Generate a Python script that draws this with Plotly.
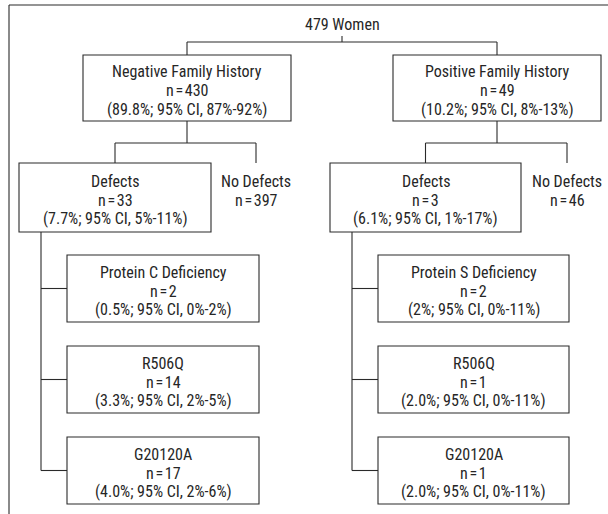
import plotly.graph_objects as go

# ---- data ----
total_label = "479 Women"
group_labels = ["Negative Family History", "Positive Family History"]
group_n = [430, 49]
group_ci = ["(89.8%; 95% CI, 87%-92%)", "(10.2%; 95% CI, 8%-13%)"]
defect_n = [33, 3]
defect_ci = ["(7.7%; 95% CI, 5%-11%)", "(6.1%; 95% CI, 1%-17%)"]
nodefect_n = [397, 46]
sub_labels = [["Protein C Deficiency", "R506Q", "G20120A"],
              ["Protein S Deficiency", "R506Q", "G20120A"]]
sub_n = [[2, 14, 17], [2, 1, 1]]
sub_ci = [["(0.5%; 95% CI, 0%-2%)", "(3.3%; 95% CI, 2%-5%)", "(4.0%; 95% CI, 2%-6%)"],
          ["(2%; 95% CI, 0%-11%)", "(2.0%; 95% CI, 0%-11%)", "(2.0%; 95% CI, 0%-11%)"]]

# ---- layout geometry (pixel-like coordinates) ----
W, H = 608, 514
FONT = "Roboto Condensed, DejaVu Sans Condensed, sans-serif"
FS = 16
LC = "#2a2a2a"
TC = "#262626"
root_xy = (342, 24)
branch_y0 = 42
group_box = [(83, 291), (393, 601)]
group_y = (55, 121)
split_y = 143
defect_box = [(19, 211), (330, 521)]
defect_y = (163, 232)
nodef_x = [256, 567]
sub_x = [(67, 259), (378, 569)]
sub_y = [(255, 322), (346, 413), (437, 504)]
tree_x = [41, 352]
OFF = [-16.5, 2.5, 21.0]

def neq(v):
    return "n\u200a=\u200a" + str(v)

shapes = []
annots = []

def line(x0, y0, x1, y1):
    shapes.append(dict(type="line", x0=x0, y0=y0, x1=x1, y1=y1, xref="x", yref="y",
                       line=dict(color=LC, width=1.1)))

def rect(x0, y0, x1, y1):
    shapes.append(dict(type="rect", x0=x0, y0=y0, x1=x1, y1=y1, xref="x", yref="y",
                       line=dict(color=LC, width=1.1), fillcolor="white", layer="below"))

def text(x, y, s):
    annots.append(dict(x=x, y=y, xref="x", yref="y", text=s, showarrow=False,
                       font=dict(family=FONT, size=FS, color=TC),
                       xanchor="center", yanchor="middle", align="center"))

def block(x, ymid, lines):
    for k, s in enumerate(lines):
        text(x, ymid + OFF[k], s)

# outer frame
line(9, 5, W + 2, 5)
line(9, 5, 9, H + 2)

# root
text(root_xy[0], root_xy[1], total_label)
gcx = [(a + b) / 2 for a, b in group_box]
line(root_xy[0], 36, root_xy[0], branch_y0)
line(gcx[0], branch_y0, gcx[1], branch_y0)
for i in range(2):
    line(gcx[i], branch_y0, gcx[i], group_y[0])
    rect(group_box[i][0], group_y[0], group_box[i][1], group_y[1])
    block(gcx[i], (group_y[0] + group_y[1]) / 2,
          [group_labels[i], neq(group_n[i]), group_ci[i]])
    dcx = (defect_box[i][0] + defect_box[i][1]) / 2
    line(gcx[i], group_y[1], gcx[i], split_y)
    line(dcx, split_y, nodef_x[i], split_y)
    line(dcx, split_y, dcx, defect_y[0])
    line(nodef_x[i], split_y, nodef_x[i], defect_y[0])
    rect(defect_box[i][0], defect_y[0], defect_box[i][1], defect_y[1])
    dmid = (defect_y[0] + defect_y[1]) / 2
    block(dcx, dmid, ["Defects", neq(defect_n[i]), defect_ci[i]])
    block(nodef_x[i], dmid, ["No Defects", neq(nodefect_n[i])])
    tx = tree_x[i]
    mids = [(a + b) / 2 for a, b in sub_y]
    line(tx, defect_y[1], tx, mids[-1])
    for j in range(3):
        line(tx, mids[j], sub_x[i][0], mids[j])
        rect(sub_x[i][0], sub_y[j][0], sub_x[i][1], sub_y[j][1])
        block((sub_x[i][0] + sub_x[i][1]) / 2, mids[j],
              [sub_labels[i][j], neq(sub_n[i][j]), sub_ci[i][j]])

fig = go.Figure()
fig.update_layout(
    width=W, height=H, margin=dict(l=0, r=0, t=0, b=0),
    paper_bgcolor="white", plot_bgcolor="white",
    xaxis=dict(range=[0, W], visible=False, fixedrange=True),
    yaxis=dict(range=[H, 0], visible=False, fixedrange=True),
    shapes=shapes, annotations=annots, showlegend=False,
)
fig.write_html("out.html", config={"displayModeBar": False, "staticPlot": True},
               post_script="document.body.style.margin='0';")
